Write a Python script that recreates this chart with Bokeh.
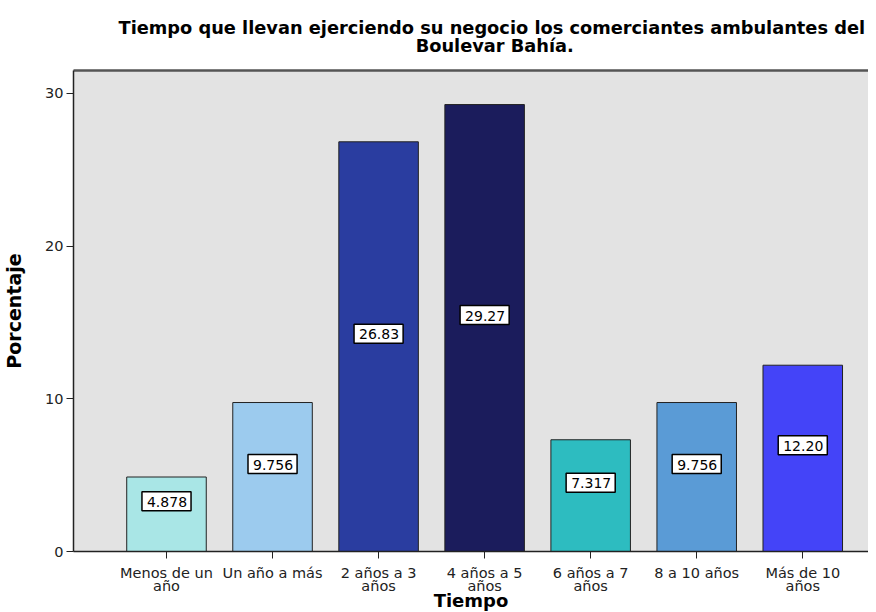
from bokeh.plotting import figure
from bokeh.models import ColumnDataSource, Range1d, FixedTicker, LinearAxis, Title
from bokeh.core.properties import value
from bokeh.embed import file_html
from bokeh.resources import INLINE

categories = ["Menos de un\naño", "Un año a más", "2 años a 3\naños", "4 años a 5\naños",
              "6 años a 7\naños", "8 a 10 años", "Más de 10\naños"]
values = [4.878, 9.756, 26.83, 29.27, 7.317, 9.756, 12.20]
labels = ["4.878", "9.756", "26.83", "29.27", "7.317", "9.756", "12.20"]
colors = ["#a9e6e6", "#9ccbee", "#2a3da0", "#1b1c5c", "#2dbcc0", "#5a9bd6", "#4444f8"]
y_ticks = [0, 10, 20, 30]
title_lines = ["Tiempo que llevan ejerciendo su negocio los comerciantes ambulantes del",
               "Boulevar Bahía."]

FONT = "DejaVu Sans"

positions = list(range(1, len(categories) + 1))
src = ColumnDataSource(dict(
    x=positions,
    top=values,
    mid=[v / 2 for v in values],
    lab=labels,
    color=colors,
))

p = figure(frame_width=795, frame_height=481, output_backend="svg", toolbar_location=None,
           x_range=Range1d(0.123, 7.62), y_range=Range1d(0, 31.5),
           min_border_left=0, min_border_right=0, min_border_top=0, min_border_bottom=0,
           title=None)

p.background_fill_color = "#e3e3e3"
p.border_fill_color = "white"
p.outline_line_color = None
p.grid.visible = False

xb = p.below[0]
yl = p.left[0]

# top border of the frame
top_ax = LinearAxis(ticker=FixedTicker(ticks=[]), axis_line_color="#555555", axis_line_width=2.5,
                    major_tick_line_color=None, minor_tick_line_color=None,
                    major_label_text_font_size="0px", major_label_standoff=0)
p.add_layout(top_ax, "above")

# two-line title; second line indented so that it sits centred under the first
indent = "\u00a0" * 48
title = Title(text=title_lines[0] + "\n" + indent + title_lines[1], align="left", offset=45,
              text_font=FONT, text_font_size="17.8px", text_font_style="bold",
              text_color="black", standoff=28, text_line_height=0.9)
p.add_layout(title, "above")

p.vbar(x="x", top="top", width=0.75, bottom=0, fill_color="color",
       line_color="#222222", line_width=1, source=src)

p.text(x="x", y="mid", text="lab", source=src, text_align="center",
       text_baseline="middle", y_offset=-13, text_font=value(FONT),
       text_font_size="14px", text_color="black",
       background_fill_color="white", border_line_color="black",
       border_line_width=1.5, padding=(5, 4, 5, 4))

xb.ticker = FixedTicker(ticks=positions)
xb.major_label_overrides = {i: c for i, c in zip(positions, categories)}
xb.axis_label = "Tiempo"
yl.ticker = FixedTicker(ticks=y_ticks)
yl.axis_label = "Porcentaje"

for ax in (xb, yl):
    ax.axis_label_text_font = FONT
    ax.axis_label_text_font_size = "18px"
    ax.axis_label_text_font_style = "bold"
    ax.axis_label_text_color = "black"
    ax.major_label_text_font = FONT
    ax.major_label_text_font_size = "14.5px"
    ax.major_label_text_color = "#222222"
    ax.axis_line_color = "#222222"
    ax.axis_line_width = 1.5
    ax.major_tick_line_color = "#222222"
    ax.major_tick_in = 0
    ax.major_tick_out = 7
    ax.minor_tick_line_color = None

yl.axis_label_text_font_size = "19px"
xb.major_label_text_line_height = 0.85
xb.major_label_standoff = 6
xb.axis_label_standoff = -7
yl.major_label_standoff = 3
yl.axis_label_standoff = 17

open("out.html", "w").write(file_html(p, INLINE))
